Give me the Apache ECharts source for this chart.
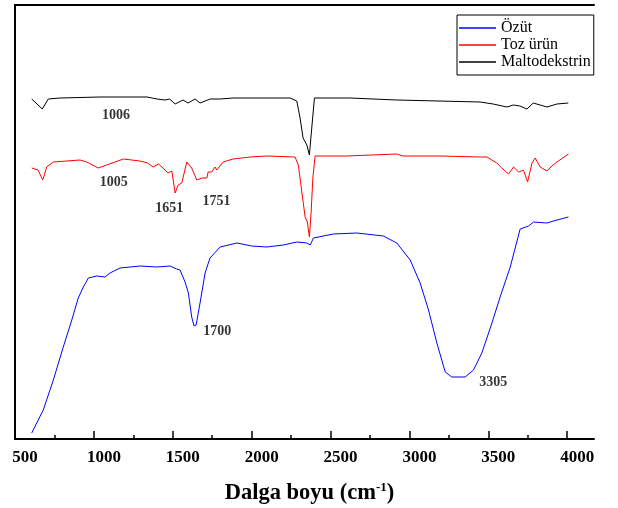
<!DOCTYPE html>
<html>
<head>
<meta charset="utf-8">
<title>FTIR spektrumu</title>
<script src="https://cdn.jsdelivr.net/npm/echarts@6/dist/echarts.min.js"></script>
<style>
  html, body { margin: 0; padding: 0; background: #fff; }
  #main { width: 618px; height: 508px; }
</style>
</head>
<body>
<div id="main"></div>
<script>
// wavenumbers (cm-1) and relative transmittance (arbitrary units, stacked)
const ozutX = [606, 679, 743, 806, 860, 901, 933, 965, 1018, 1071, 1102, 1166, 1293, 1400, 1483, 1525, 1546, 1578, 1599, 1620, 1635, 1648, 1673, 1705, 1736, 1800, 1906, 2000, 2096, 2200, 2286, 2350, 2371, 2392, 2518, 2667, 2835, 2920, 3005, 3068, 3121, 3174, 3227, 3269, 3353, 3406, 3459, 3523, 3575, 3639, 3702, 3755, 3787, 3871, 3935, 4008];
const ozutY = [6, 29, 59, 92, 119, 141, 152, 161, 163, 162, 166, 171, 173, 172, 173, 170, 169, 157, 146, 122, 113, 114, 136, 166, 181, 192, 196, 193, 192, 194, 197, 196, 194, 201, 205, 206, 203, 196, 179, 156, 129, 96, 67, 62, 62, 69, 86, 116, 142, 172, 210, 213, 217, 216, 219, 222];

const tozX = [606, 646, 676, 701, 743, 912, 955, 1028, 1081, 1187, 1293, 1340, 1375, 1410, 1438, 1470, 1494, 1515, 1534, 1557, 1589, 1620, 1652, 1684, 1716, 1724, 1747, 1768, 1779, 1819, 1882, 1990, 2096, 2275, 2296, 2318, 2339, 2353, 2366, 2377, 2388, 2402, 2600, 2920, 2960, 3200, 3448, 3491, 3554, 3586, 3628, 3660, 3692, 3723, 3749, 3777, 3797, 3829, 3872, 3903, 3935, 4008];
const tozY = [271, 269, 259, 272, 277, 279, 277, 271, 274, 280, 278, 276, 272, 275, 271, 266, 268, 246, 254, 256, 277, 271, 259, 261, 261, 267, 267, 272, 269, 277, 280, 282, 283, 282, 274, 247, 222, 217, 202, 227, 261, 283, 283, 285, 283, 283, 282, 282, 276, 271, 265, 272, 267, 269, 257, 276, 281, 272, 268, 273, 277, 285];

const maltoX = [606, 673, 711, 785, 1039, 1337, 1400, 1450, 1480, 1515, 1565, 1597, 1641, 1673, 1737, 1800, 1882, 2244, 2286, 2307, 2326, 2350, 2366, 2381, 2398, 2624, 2920, 3448, 3531, 3618, 3658, 3700, 3745, 3785, 3872, 3935, 4007];
const maltoY = [340, 330, 340, 341, 342, 342, 340, 339, 340, 335, 339, 336, 340, 336, 340, 340, 341, 341, 338, 321, 301, 294, 284, 311, 341, 341, 339, 337, 335, 332, 334, 333, 330, 336, 332, 335, 336];

// peak labels
const peakText = ['1006', '1005', '1651', '1751', '1700', '3305'];
const peakX = [1140, 1126, 1477, 1777, 1782, 3532];
const peakY = [324, 257, 231, 238, 108, 57];

const majorTicks = [500, 1000, 1500, 2000, 2500, 3000, 3500, 4000];
const minorTicks = [750, 1250, 1750, 2250, 2750, 3250, 3750];

const zip = (xs, ys) => xs.map((x, i) => [x, ys[i]]);

const serif = "'Liberation Serif', 'DejaVu Serif', serif";
const chart = echarts.init(document.getElementById('main'));

chart.setOption({
  animation: false,
  grid: { left: 15, right: 24, top: 5, bottom: 69, outerBoundsMode: 'none', containLabel: false },
  legend: {
    data: [
      { name: 'Özüt', icon: 'rect' },
      { name: 'Toz ürün', icon: 'rect' },
      { name: 'Maltodekstrin', icon: 'rect' }
    ],
    orient: 'vertical',
    left: 457, top: 15,
    itemWidth: 37, itemHeight: 1.5, itemGap: 1,
    padding: [5, 3, 5, 2],
    borderColor: '#000', borderWidth: 1,
    textStyle: { fontFamily: serif, fontSize: 16, color: '#000' }
  },
  xAxis: [
    {
      type: 'value', min: 500, max: 4170, position: 'bottom',
      splitLine: { show: false },
      axisLine: { lineStyle: { color: '#000', width: 2 } },
      axisTick: { inside: true, length: 8, lineStyle: { color: '#000', width: 1.5 }, customValues: majorTicks },
      axisLabel: {
        customValues: majorTicks, margin: 10, padding: [0, 0, 0, 20],
        formatter: v => String(v),
        color: '#000', fontFamily: serif, fontWeight: 'bold', fontSize: 17
      },
      name: '{a|Dalga boyu (cm}{s|-1}{a|)}',
      nameLocation: 'middle', nameGap: 42,
      nameTextStyle: {
        padding: [0, 0, 0, 10],
        rich: {
          a: { fontFamily: serif, fontWeight: 'bold', fontSize: 22.5, color: '#000' },
          s: { fontFamily: serif, fontWeight: 'bold', fontSize: 13, color: '#000', verticalAlign: 'top', padding: [0, 0, 11, 0] }
        }
      }
    },
    {
      type: 'value', min: 500, max: 4170, position: 'bottom',
      splitLine: { show: false },
      axisLine: { show: false },
      axisTick: { inside: true, length: 4, lineStyle: { color: '#000', width: 1.5 }, customValues: minorTicks },
      axisLabel: { show: false }
    },
    {
      type: 'value', min: 500, max: 4170, position: 'top',
      splitLine: { show: false },
      axisLine: { lineStyle: { color: '#000', width: 2 } },
      axisTick: { show: false },
      axisLabel: { show: false }
    }
  ],
  yAxis: {
    type: 'value', min: 0, max: 434,
    splitLine: { show: false },
    axisLine: { show: true, lineStyle: { color: '#000', width: 2 } },
    axisTick: { show: false },
    axisLabel: { show: false }
  },
  series: [
    {
      name: 'Özüt', type: 'line', symbol: 'none',
      lineStyle: { color: '#0000ff', width: 1 }, itemStyle: { color: '#0000ff' },
      data: zip(ozutX, ozutY)
    },
    {
      name: 'Toz ürün', type: 'line', symbol: 'none',
      lineStyle: { color: '#ff0000', width: 1 }, itemStyle: { color: '#ff0000' },
      data: zip(tozX, tozY)
    },
    {
      name: 'Maltodekstrin', type: 'line', symbol: 'none',
      lineStyle: { color: '#000000', width: 1 }, itemStyle: { color: '#000000' },
      data: zip(maltoX, maltoY)
    },
    {
      type: 'scatter', symbolSize: 0, silent: true,
      label: {
        show: true, position: 'inside', formatter: p => p.name,
        color: '#000', fontFamily: serif, fontWeight: 'bold', fontSize: 14
      },
      data: peakText.map((t, i) => ({ name: t, value: [peakX[i], peakY[i]] }))
    }
  ]
});
</script>
</body>
</html>
